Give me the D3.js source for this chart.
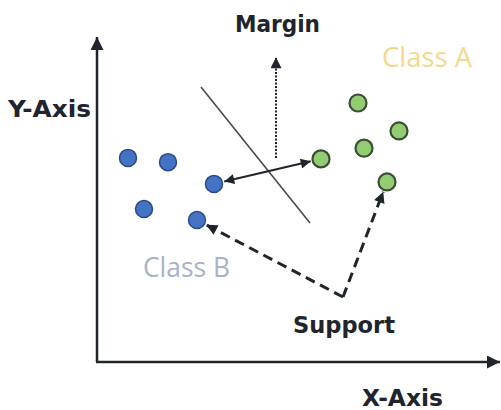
<!DOCTYPE html>
<html>
<head>
<meta charset="utf-8">
<script src="https://cdn.jsdelivr.net/npm/d3@7"></script>
<style>
  html, body { margin: 0; padding: 0; background: #fff; }
  svg { display: block; }
</style>
</head>
<body>
<div id="chart"></div>
<script>
// points in axis units (x: 0-100, y: 0-100)
const classAX = [56, 65.25, 75.5, 66.75, 72.5];
const classAY = [62.5, 79.7, 71.1, 65.8, 55.4];
const classBX = [7.75, 17.75, 29.25, 11.75, 25];
const classBY = [62.8, 61.5, 54.8, 47.1, 43.7];

// separating line, margin arrow, support vertex
const hyperplaneX = [26, 53.25];
const hyperplaneY = [84.6, 42.8];
const marginArrowX = [44.75, 44.75];
const marginArrowY = [62.8, 93.8];
const supportVertex = [61.5, 20];

const labels = ["Y-Axis", "X-Axis", "Margin", "Support", "Class A", "Class B"];

var cfg = {
  w: 501,
  h: 410,
  origin: {x: 97, y: 362},   // where the axes meet
  xEnd: 500,                 // tip of the x axis arrow
  yEnd: 37,                  // tip of the y axis arrow
  dotRadius: 8.5,
  colorA: "#93cc72",
  strokeA: "#3b4d33",
  colorB: "#4472c4",
  strokeB: "#2a4b8a",
  ink: "#20242c"
};

const x = d3.scaleLinear().domain([0, 100]).range([cfg.origin.x, cfg.origin.x + 400]);
const y = d3.scaleLinear().domain([0, 100]).range([cfg.origin.y, cfg.origin.y - 325]);

const svg = d3.select("#chart").append("svg")
  .attr("width", cfg.w)
  .attr("height", cfg.h);

// arrow heads
const defs = svg.append("defs");
function addMarker(id, len, wid) {
  defs.append("marker")
    .attr("id", id)
    .attr("viewBox", "0 0 10 10")
    .attr("refX", 10)
    .attr("refY", 5)
    .attr("markerUnits", "userSpaceOnUse")
    .attr("markerWidth", len)
    .attr("markerHeight", wid)
    .attr("orient", "auto-start-reverse")
    .append("path")
      .attr("d", "M0,0 L10,5 L0,10 z")
      .attr("fill", cfg.ink);
}
addMarker("axisHead", 16, 13);
addMarker("head", 14, 11);
addMarker("smallHead", 14, 10);

// axes
svg.append("line")
  .attr("x1", x(0)).attr("y1", y(0))
  .attr("x2", x(0)).attr("y2", cfg.yEnd)
  .attr("stroke", cfg.ink).attr("stroke-width", 2.5)
  .attr("marker-end", "url(#axisHead)");
svg.append("line")
  .attr("x1", x(0) - 1).attr("y1", y(0))
  .attr("x2", cfg.xEnd).attr("y2", y(0))
  .attr("stroke", cfg.ink).attr("stroke-width", 2.5)
  .attr("marker-end", "url(#axisHead)");

// hyperplane
svg.append("line")
  .attr("x1", x(hyperplaneX[0])).attr("y1", y(hyperplaneY[0]))
  .attr("x2", x(hyperplaneX[1])).attr("y2", y(hyperplaneY[1]))
  .attr("stroke", "#4a4a4a").attr("stroke-width", 1.6);

// margin dotted arrow
svg.append("line")
  .attr("x1", x(marginArrowX[0])).attr("y1", y(marginArrowY[0]))
  .attr("x2", x(marginArrowX[1])).attr("y2", y(marginArrowY[1]))
  .attr("stroke", cfg.ink).attr("stroke-width", 2)
  .attr("stroke-dasharray", "2,1.5")
  .attr("marker-end", "url(#head)");

// shorten a segment so it stops at the edge of a dot
function toward(p, q, cut) {
  const dx = q[0] - p[0], dy = q[1] - p[1];
  const len = Math.sqrt(dx * dx + dy * dy);
  return [q[0] - dx / len * cut, q[1] - dy / len * cut];
}

// double arrow between the closest points
const b3 = [x(classBX[2]), y(classBY[2])];
const a1 = [x(classAX[0]), y(classAY[0])];
const s1 = toward(a1, b3, cfg.dotRadius + 2);
const s2 = toward(b3, a1, cfg.dotRadius + 2);
svg.append("line")
  .attr("x1", s1[0]).attr("y1", s1[1])
  .attr("x2", s2[0]).attr("y2", s2[1])
  .attr("stroke", cfg.ink).attr("stroke-width", 2)
  .attr("marker-start", "url(#smallHead)")
  .attr("marker-end", "url(#smallHead)");

// support vectors dashed arrows
const v = [x(supportVertex[0]), y(supportVertex[1])];
const supportTargets = [[classBX[4], classBY[4]], [classAX[4], classAY[4]]];
supportTargets.forEach(function(t) {
  const tip = toward(v, [x(t[0]), y(t[1])], cfg.dotRadius + 2);
  svg.append("line")
    .attr("x1", v[0]).attr("y1", v[1])
    .attr("x2", tip[0]).attr("y2", tip[1])
    .attr("stroke", cfg.ink).attr("stroke-width", 3)
    .attr("stroke-dasharray", "10,6")
    .attr("marker-end", "url(#head)");
});

// dots
svg.append("g").selectAll("circle")
  .data(d3.zip(classBX, classBY))
  .enter().append("circle")
    .attr("cx", function(d) { return x(d[0]); })
    .attr("cy", function(d) { return y(d[1]); })
    .attr("r", cfg.dotRadius)
    .attr("fill", cfg.colorB)
    .attr("stroke", cfg.strokeB)
    .attr("stroke-width", 1.5);

svg.append("g").selectAll("circle")
  .data(d3.zip(classAX, classAY))
  .enter().append("circle")
    .attr("cx", function(d) { return x(d[0]); })
    .attr("cy", function(d) { return y(d[1]); })
    .attr("r", cfg.dotRadius)
    .attr("fill", cfg.colorA)
    .attr("stroke", cfg.strokeA)
    .attr("stroke-width", 2.2);

// labels (x, baseline, width)
const labelPos = [
  {x: 8,   y: 117, w: 83,  bold: true,  fill: cfg.ink},
  {x: 362, y: 406, w: 81,  bold: true,  fill: cfg.ink},
  {x: 235, y: 32,  w: 85,  bold: true,  fill: cfg.ink},
  {x: 293, y: 333, w: 102, bold: true,  fill: cfg.ink},
  {x: 382, y: 67,  w: 90,  bold: false, fill: "#f4d98c"},
  {x: 143, y: 277, w: 87,  bold: false, fill: "#a8b2c8"}
];
svg.append("g").selectAll("text")
  .data(labels)
  .enter().append("text")
    .attr("x", function(d, i) { return labelPos[i].x; })
    .attr("y", function(d, i) { return labelPos[i].y; })
    .attr("textLength", function(d, i) { return labelPos[i].w; })
    .attr("lengthAdjust", "spacingAndGlyphs")
    .style("font-family", function(d, i) { return labelPos[i].bold ? "'DejaVu Sans', sans-serif" : "'Open Sans', sans-serif"; })
    .style("font-weight", function(d, i) { return labelPos[i].bold ? "bold" : "normal"; })
    .style("font-size", function(d, i) { return labelPos[i].bold ? "22.5px" : "27px"; })
    .attr("fill", function(d, i) { return labelPos[i].fill; })
    .text(function(d) { return d; });
</script>
</body>
</html>
